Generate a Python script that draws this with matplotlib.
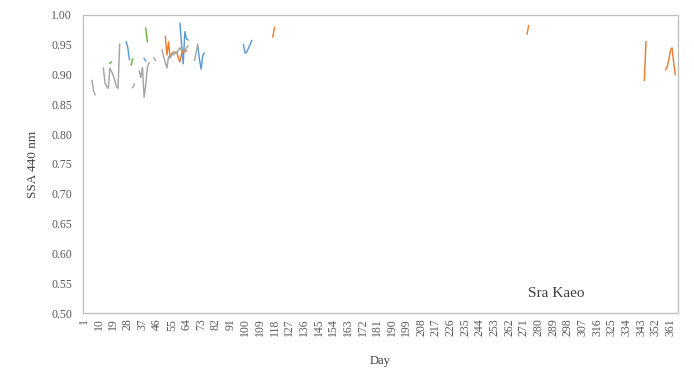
# SSA 440 nm, Sra Kaeo - daily values by year

import matplotlib
matplotlib.use('Agg')
import matplotlib.pyplot as plt
import numpy as np
import pandas as pd

plt.rcParams['font.family'] = ['Liberation Serif', 'DejaVu Serif']

# daily SSA values, one list per series (colour)
gray_days = [6, 7, 8,
             13, 14, 15, 16, 17, 18, 19, 20, 21, 22, 23,
             31, 32,
             35, 36, 37, 38, 39, 40, 41,
             44, 45,
             49, 50, 51, 52, 53, 54, 55, 56, 57, 58, 59, 60, 61, 62, 63, 64, 65,
             69, 70, 71]
gray_ssa = [0.890, 0.872, 0.866,
            0.911, 0.886, 0.880, 0.877, 0.911, 0.905, 0.899, 0.890, 0.880, 0.877, 0.951,
            0.878, 0.884,
            0.906, 0.895, 0.912, 0.862, 0.882, 0.912, 0.920,
            0.928, 0.924,
            0.941, 0.930, 0.920, 0.911, 0.930, 0.928, 0.935, 0.933, 0.938, 0.936, 0.941,
            0.945, 0.940, 0.943, 0.940, 0.945, 0.948,
            0.924, 0.938, 0.951]

blue_days = [27, 28, 29,
             38, 39,
             60, 61, 62, 63, 64, 65,
             71, 72, 73, 74, 75,
             99, 100, 101, 102, 103, 104]
blue_ssa = [0.955, 0.945, 0.925,
            0.927, 0.923,
            0.986, 0.950, 0.918, 0.972, 0.960, 0.958,
            0.947, 0.925, 0.909, 0.932, 0.936,
            0.950, 0.936, 0.938, 0.944, 0.950, 0.957]

green_days = [17, 18, 30, 31, 39, 40]
green_ssa = [0.919, 0.921, 0.916, 0.926, 0.978, 0.955]

orange_days = [51, 52, 53, 54, 55, 56, 57, 58, 59, 60, 61, 62, 63, 64,
               117, 118,
               273, 274,
               345, 346,
               358, 359, 360, 361, 362, 363, 364]
orange_ssa = [0.964, 0.933, 0.955, 0.928, 0.935, 0.938, 0.936, 0.938, 0.928, 0.921,
              0.935, 0.940, 0.938, 0.940,
              0.963, 0.979,
              0.968, 0.982,
              0.890, 0.955,
              0.908, 0.913, 0.925, 0.940, 0.945, 0.920, 0.900]

all_days = np.arange(1, 366)
tick_days = all_days[::9]

fig = plt.figure(figsize=(6.94, 3.74), dpi=100)
ax = fig.add_axes([0.1196, 0.163, 0.857, 0.797])

series = [(blue_days, blue_ssa, '#5B9BD5'),
          (orange_days, orange_ssa, '#ED7D31'),
          (gray_days, gray_ssa, '#A5A5A5'),
          (green_days, green_ssa, '#70AD47')]
for d, v, c in series:
    s = pd.Series(v, index=d).reindex(all_days)   # missing days -> gaps
    ax.plot(all_days, s.values, color=c, lw=1.05)

ax.set_xlim(0.5, 365.5)
ax.set_ylim(0.5, 1.0)
ax.set_yticks(np.arange(0.5, 1.001, 0.05))
ax.yaxis.set_major_formatter(matplotlib.ticker.FormatStrFormatter('%.2f'))
ax.set_xticks(tick_days)
ax.set_xticklabels([str(d) for d in tick_days], rotation=90)
ax.tick_params(length=0, labelsize=8.5, colors='#595959')
ax.tick_params(axis='y', pad=8)
ax.tick_params(axis='x', pad=4)
for sp in ax.spines.values():
    sp.set_color('#BFBFBF')
    sp.set_linewidth(0.9)

ax.set_xlabel('Day', fontsize=9, color='#404040', labelpad=13)
ax.set_ylabel('SSA 440 nm', fontsize=9.5, color='#404040', labelpad=9)
ax.text(0.748, 0.055, 'Sra Kaeo', transform=ax.transAxes, fontsize=11, color='#404040')

fig.savefig('out.png', dpi=100)
